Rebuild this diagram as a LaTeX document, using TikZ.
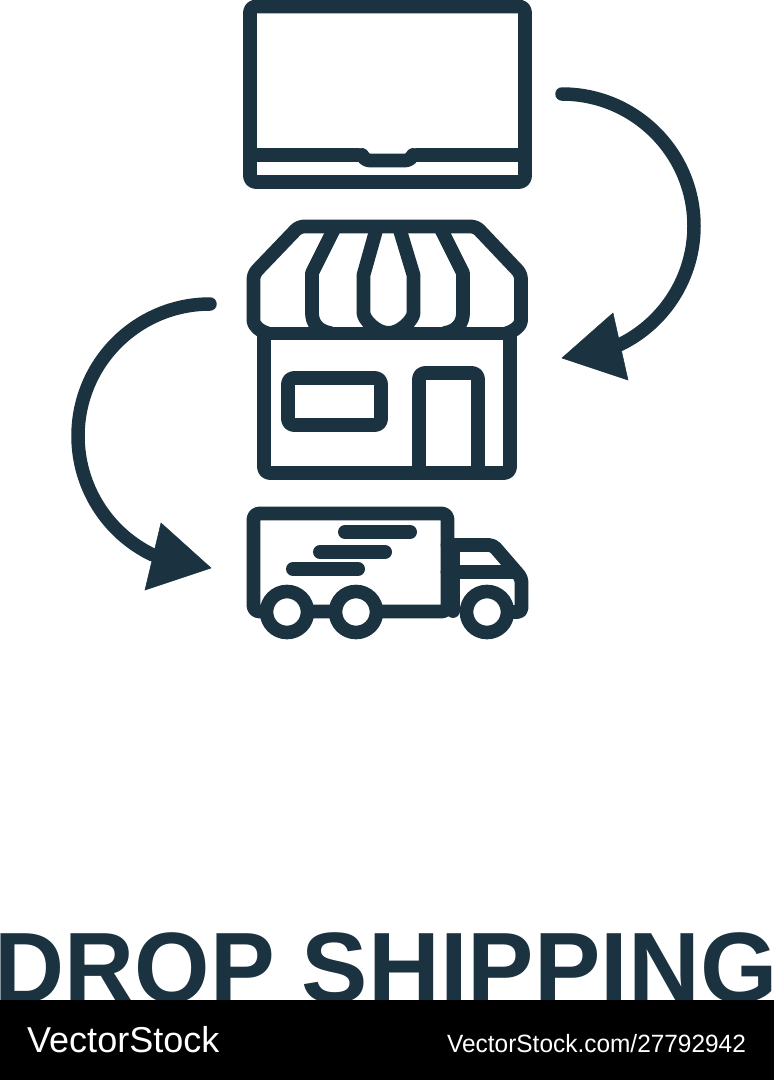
\documentclass[tikz,border=0pt]{standalone}
\usepackage{fontspec}
\usepackage{graphicx}
\setmainfont{Liberation Sans}
\definecolor{ink}{HTML}{1B3240}
\tikzset{
  icon/.style={draw=ink,line width=13.8pt,line join=round,line cap=round},
  iconround/.style={icon,rounded corners=6pt},
  barline/.style={draw=ink,line width=14pt,line cap=round},
  arcline/.style={draw=ink,line width=13.5pt,line cap=round},
  head/.style={fill=ink,draw=ink,line width=.5pt,line join=miter},
  wheel/.style={circle,draw=ink,fill=white,line width=13.6pt,minimum size=41pt,inner sep=0pt,outer sep=0pt},
  lbl/.style={inner sep=0pt,anchor=base west,text=white}
}
\begin{document}
\begin{tikzpicture}[x=1pt,y=-1pt]
\useasboundingbox (0,0) rectangle (774,1080);
\fill[white] (0,0) rectangle (774,1080);
% laptop
\draw[iconround] (250,6.5) rectangle (525,182);
\draw[icon] (256,155) -- (358,155);
\draw[icon] (417,155) -- (519,155);
\draw[icon] (362,155) .. controls (365,160) and (367,160.5) .. (372,160.5) -- (403,160.5) .. controls (408,160.5) and (410,160) .. (413,155);
% store awning
\draw[icon,rounded corners=5pt] (268,333.5) .. controls (259,331) and (253.5,325) .. (253.5,316) -- (253.5,274) -- (299,226.5) -- (476,226.5) -- (521,274) -- (521,316) .. controls (521,325) and (515,331) .. (506,333.5);
\draw[icon] (268,333.5) -- (506,333.5);
\draw[icon] (335,227) -- (312,273) -- (312,313) .. controls (312,323) and (318,331) .. (330,333);
\draw[icon] (440,227) -- (463,273) -- (463,313) .. controls (463,323) and (457,331) .. (445,333);
\draw[icon] (377,227) -- (363.5,275) -- (363.5,313) .. controls (363.5,319) and (376,333) .. (388.5,333) .. controls (401,333) and (413.5,319) .. (413.5,313) -- (413.5,275) -- (399,227);
% store body
\draw[iconround] (264,335) -- (264,473) -- (510,473) -- (510,335);
\draw[iconround] (288,378) rectangle (381,425);
\draw[iconround] (419,473) -- (419,373) -- (478,373) -- (478,473);
% truck
\draw[iconround] (447.5,611.5) -- (253.5,611.5) -- (253.5,513.5) -- (447.5,513.5) -- cycle;
\draw[icon] (453,550) -- (453,611);
\draw[icon,rounded corners=4pt] (447.5,545) -- (493,545) -- (521.5,578) -- (521.5,612) -- (510,612);
\draw[icon] (447.5,572) -- (515,572);
\draw[barline] (345,532) -- (410,532);
\draw[barline] (320,552) -- (385,552);
\draw[barline] (293,569) -- (358,569);
\node[wheel] (w1) at (287,612) {};
\node[wheel] (w2) at (356,612) {};
\node[wheel] (w3) at (487,612) {};
% arrows
\draw[arcline] (562,94) arc[start angle=90,end angle=-64,radius=132pt];
\fill[head] (613,313) -- (562,358) -- (628,380) -- cycle;
\draw[arcline] (210,304) arc[start angle=90,end angle=244,radius=132pt];
\fill[head] (161,523) -- (211,568) -- (145,590) -- cycle;
% title
\node[inner sep=0pt,anchor=base west,text=ink,font=\fontsize{100}{100}\selectfont\bfseries] (title) at (-5.5,1002.5) {\scalebox{.97}[1]{DROP}\hspace{27pt}\scalebox{.995}[1]{SHIPPING}};
% footer
\fill[black] (0,1000) rectangle (774,1080);
\node[lbl,font=\fontsize{36}{37}\selectfont] (brand) at (27,1052) {VectorStock};
\node[lbl,font=\fontsize{25}{26}\selectfont] (url) at (447,1052) {\scalebox{.977}[1]{VectorStock.com/27792942}};
\end{tikzpicture}
\end{document}
